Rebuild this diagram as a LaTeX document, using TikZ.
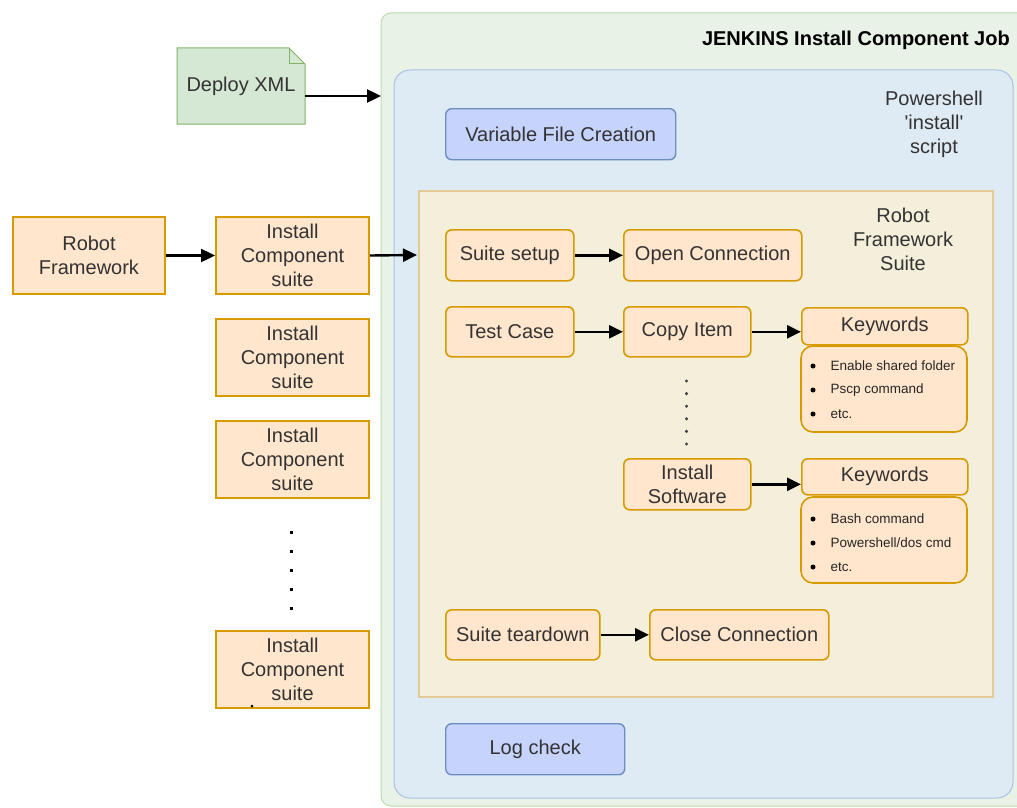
\documentclass[tikz,border=0pt]{standalone}
\usepackage{fontspec}
\setmainfont{Liberation Sans}
\usetikzlibrary{arrows.meta,shapes.misc,positioning}
\definecolor{ofill}{HTML}{FFE6CC}
\definecolor{ostroke}{HTML}{D79B00}
\definecolor{gfill}{HTML}{D5E8D4}
\definecolor{gstroke}{HTML}{82B366}
\definecolor{jfill}{HTML}{E9F2E6}
\definecolor{jstroke}{HTML}{BBDDAA}
\definecolor{pfill}{HTML}{DFEBF4}
\definecolor{pstroke}{HTML}{A8C2E4}
\definecolor{rfill}{HTML}{F3EFDA}
\definecolor{rstroke}{HTML}{E3CC94}
\definecolor{vfill}{HTML}{C6D3FA}
\definecolor{vstroke}{HTML}{6C8EBF}
\definecolor{txt}{HTML}{333333}
\tikzset{
  lbl/.style={font=\fontsize{20}{24}\selectfont, text=txt, align=center},
  obox/.style={draw=ostroke, fill=ofill, line width=1.6pt, rounded corners=6pt, anchor=north west, lbl, inner sep=0pt},
  sqbox/.style={draw=ostroke, fill=ofill, line width=2pt, anchor=north west, lbl, inner sep=0pt},
  vbox/.style={draw=vstroke, fill=vfill, line width=1.4pt, rounded corners=6pt, anchor=north west, lbl, inner sep=0pt},
  arr/.style={-{Triangle[length=14pt,width=13pt]}, line width=2.4pt, black},
  kwtext/.style={font=\fontsize{13.5}{16}\selectfont, text=black!85, anchor=west},
  bul/.style={circle, fill=black, inner sep=0pt, minimum size=5pt}
}
\begin{document}
\begin{tikzpicture}[x=1pt,y=-1pt]
\useasboundingbox (0,0) rectangle (1017,808);
\clip (0,0) rectangle (1017,808);
% containers
\draw[fill=jfill, draw=jstroke, line width=1pt, rounded corners=10pt] (381,13) rectangle (1040,806);
\node[anchor=east, font=\bfseries\fontsize{20}{23}\selectfont, text=black, inner sep=0pt] (jtitle) at (1010,40) {JENKINS Install Component Job};
\draw[fill=pfill, draw=pstroke, line width=1pt, rounded corners=16pt] (394,70) rectangle (1013,798);
\node[lbl] (pstitle) at (934,124) {Powershell\\\textquotesingle install\textquotesingle\\script};
\draw[fill=rfill, draw=rstroke, line width=1.6pt] (419,191) rectangle (993,697);
\coordinate (rfin) at (417,255);
\node[lbl] (rftitle) at (903,239) {Robot\\Framework\\Suite};

% deploy xml note
\draw[fill=gfill, draw=gstroke, line width=1pt] (177,48) -- (289,48) -- (305,64) -- (305,124) -- (177,124) -- cycle;
\draw[draw=gstroke, line width=1pt] (289,48) -- (289,64) -- (305,64);
\node[lbl] (deploy) at (241,86) {Deploy XML};
\coordinate (deployR) at (305,96);
\coordinate (jin) at (381,96);
\draw[arr] (deployR) -- (jin);

% left column
\node[sqbox, minimum width=152pt, minimum height=77pt] (rf) at (12,216) {Robot\\Framework};
\node[sqbox, minimum width=153pt, minimum height=77pt] (ic1) at (215,216) {Install\\Component\\suite};
\node[sqbox, minimum width=153pt, minimum height=77pt] (ic2) at (215,318) {Install\\Component\\suite};
\node[sqbox, minimum width=153pt, minimum height=77pt] (ic3) at (215,420) {Install\\Component\\suite};
\node[sqbox, minimum width=153pt, minimum height=77pt] (ic4) at (215,630) {Install\\Component\\suite};
\draw[arr] (rf.east) -- (ic1.west);
\draw[arr] (ic1.east) -- (rfin);
\foreach \yy in {532,551,570,589,608} \fill (289.5,\yy-1.5) rectangle ++(3,3);
\fill (252,706) circle (1.5pt);

% inner boxes
\node[vbox, minimum width=230pt, minimum height=51pt] (vfc) at (445,108) {Variable File Creation};
\node[obox, minimum width=128pt, minimum height=51pt] (ss) at (445,229) {Suite setup};
\node[obox, minimum width=178pt, minimum height=51pt] (oc) at (623,229) {Open Connection};
\node[obox, minimum width=128pt, minimum height=50pt] (tc) at (445,306) {Test Case};
\node[obox, minimum width=127pt, minimum height=50pt] (ci) at (623,306) {Copy Item};
\node[obox, minimum width=127pt, minimum height=51pt] (is) at (623,458) {Install\\Software};
\node[obox, minimum width=154pt, minimum height=50pt] (st) at (445,609) {Suite teardown};
\node[obox, minimum width=179pt, minimum height=50pt] (cc) at (649,609) {Close Connection};
\node[vbox, minimum width=179pt, minimum height=51pt] (lc) at (445,723) {Log check};

% keywords
\node[obox, minimum width=166pt, minimum height=37pt] (kw1) at (801,307) {Keywords};
\draw[draw=ostroke, fill=ofill, line width=1.6pt, rounded corners=12pt] (801,346) rectangle (967,432);
\node[obox, minimum width=166pt, minimum height=36pt] (kw2) at (801,458) {Keywords};
\draw[draw=ostroke, fill=ofill, line width=1.6pt, rounded corners=12pt] (801,497) rectangle (967,583);
\foreach \yy/\tt [count=\i] in {366/{Enable shared folder},390/{Pscp command},414/{etc.}} {
  \node[bul] (b1\i) at (813,\yy) {};
  \node[kwtext] (k1\i) at (827,\yy) {\tt};
}
\foreach \yy/\tt [count=\i] in {519/{Bash command},543/{Powershell/dos cmd},567/{etc.}} {
  \node[bul] (b2\i) at (813,\yy) {};
  \node[kwtext] (k2\i) at (827,\yy) {\tt};
}
\foreach \yy in {381,393.6,406.2,418.8,431.4,444} \fill[black!75] (686.5,\yy) circle (1.7pt);

% arrows
\draw[arr] (ss.east) -- (oc.west);
\draw[arr] (tc.east) -- (ci.west);
\draw[arr] (ci.east) -- (ci.east -| kw1.west);
\draw[arr] (is.east) -- (is.east -| kw2.west);
\draw[arr] (st.east) -- (cc.west);
\end{tikzpicture}
\end{document}
